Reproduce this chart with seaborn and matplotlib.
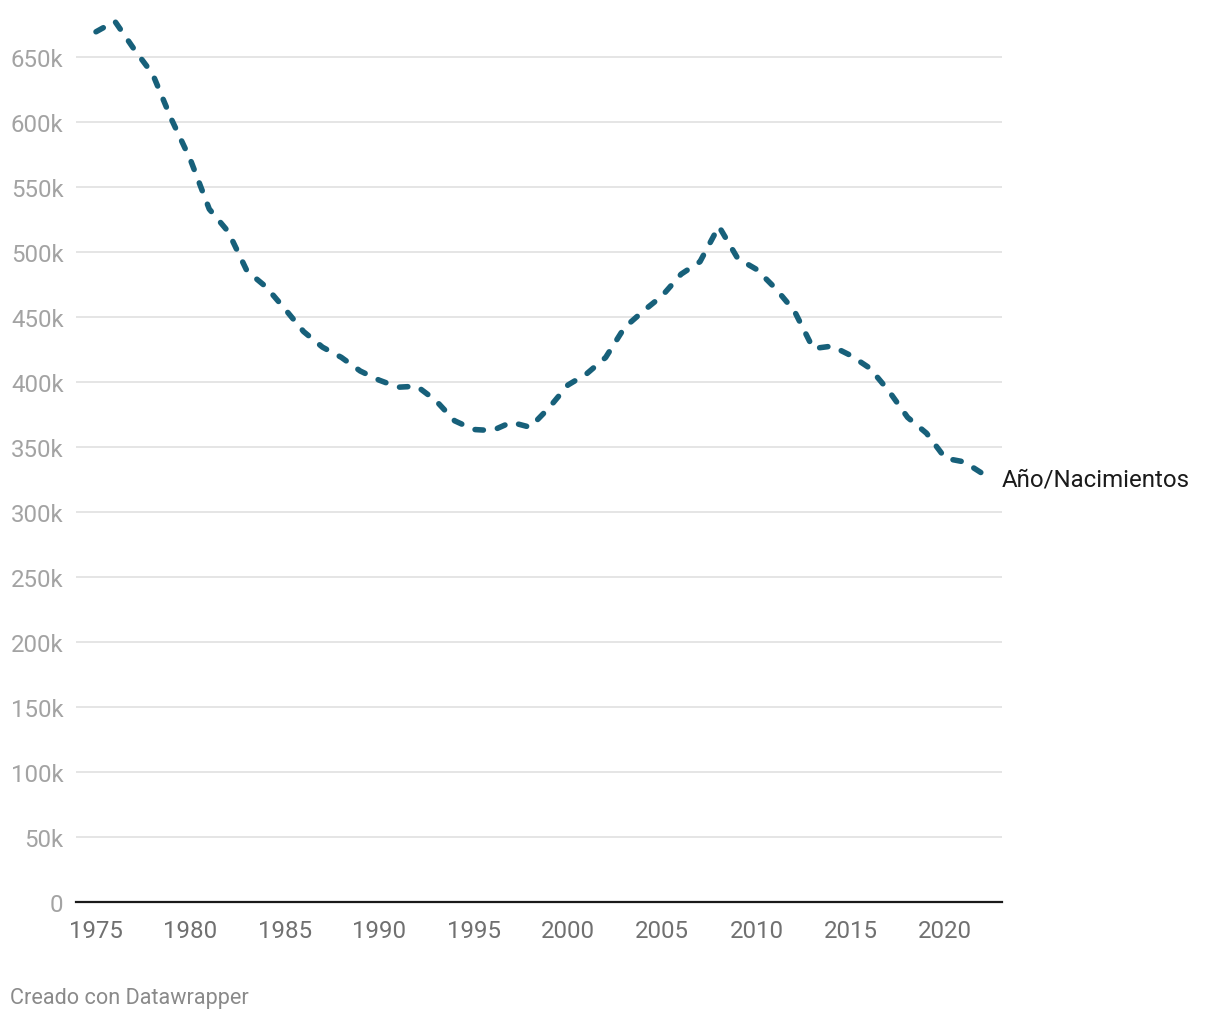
import matplotlib
matplotlib.use("Agg")
import matplotlib.pyplot as plt
import seaborn as sns
import pandas as pd
from matplotlib.ticker import FuncFormatter, MultipleLocator

# Births in Spain per year (INE)
years = list(range(1975, 2023))
births = [
    669378, 677456, 656357, 636892, 601992, 571018, 533008, 515706, 485352, 473281,
    456298, 438750, 426782, 418919, 408434, 401425, 395989, 396747, 385786, 370148,
    363469, 362626, 369035, 365193, 380130, 397632, 406380, 418846, 441881, 454591,
    466371, 482957, 492527, 519779, 494997, 486575, 471999, 454648, 425715, 427595,
    420290, 410583, 393181, 372777, 360617, 341315, 338532, 329251,
]
series_label = "Año/Nacimientos"
footer = "Creado con Datawrapper"

df = pd.DataFrame({"year": years, "births": births})

sns.set_theme(style="white")
plt.rcParams["font.family"] = ["Roboto", "DejaVu Sans"]

fig = plt.figure(figsize=(12.2, 10.2), dpi=100)
ax = fig.add_axes([0.0623, 0.1147, 0.759, 0.8667])

sns.lineplot(
    data=df, x="year", y="births", ax=ax,
    color="#17607a", linewidth=4.0,
    linestyle=(0, (1.5, 2.6)), dash_capstyle="round",
)

ax.set_xlim(1973.94, 2023)
ax.set_ylim(0, 680000)
ax.yaxis.set_major_locator(MultipleLocator(50000))
ax.xaxis.set_major_locator(MultipleLocator(5))
ax.yaxis.set_major_formatter(FuncFormatter(lambda v, p: "0" if v == 0 else f"{v/1000:.0f}k"))
ax.xaxis.set_major_formatter(FuncFormatter(lambda v, p: f"{int(v)}"))

ax.grid(axis="y", color="#e3e3e3", linewidth=1.3)
ax.grid(axis="x", visible=False)
for side in ["top", "right", "left"]:
    ax.spines[side].set_visible(False)
ax.spines["bottom"].set_color("#1a1a1a")
ax.spines["bottom"].set_linewidth(1.6)
ax.spines["bottom"].set_zorder(5)

ax.tick_params(axis="y", length=0, pad=9, labelsize=17.3, labelcolor="#a3a3a3")
ax.tick_params(axis="x", length=0, pad=12, labelsize=17.3, labelcolor="#707070")
ax.set_xlabel("")
ax.set_ylabel("")

ax.text(2023, births[-1] - 4000, series_label, fontsize=17.3, color="#1a1a1a",
        va="center", ha="left", clip_on=False)

fig.text(0.008, 0.021, footer, fontsize=15.6, color="#8a8a8a", ha="left", va="center")

fig.savefig("out.png", dpi=100)
